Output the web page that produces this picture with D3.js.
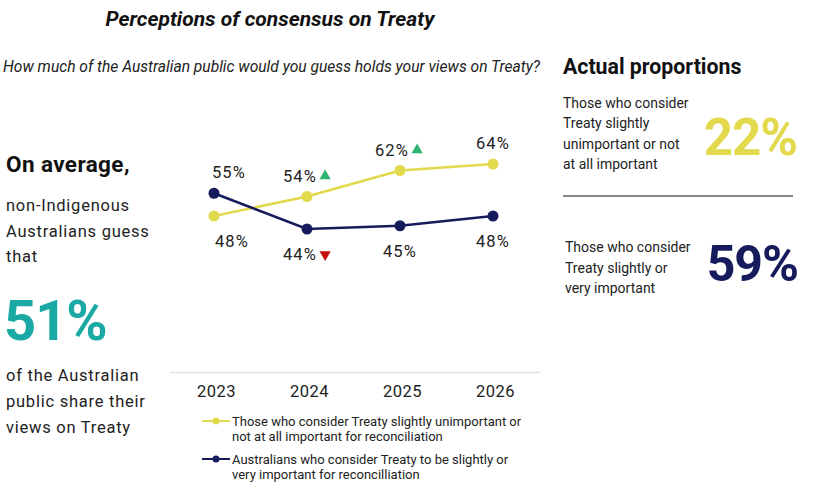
<!DOCTYPE html>
<html>
<head>
<meta charset="utf-8">
<script src="https://cdn.jsdelivr.net/npm/d3@7"></script>
<style>
  body { margin: 0; background: #fff; }
  svg { font-family: Roboto, "Noto Sans", sans-serif; }
</style>
</head>
<body>
<div id="chart"></div>
<script>
// Data
const years = ["2023", "2024", "2025", "2026"];
const unimportantGuess = [48, 54, 62, 64];   // yellow series
const importantGuess = [55, 44, 45, 48];     // navy series
const unimportantChange = [null, "up", "up", null];
const importantChange = [null, "down", null, null];
const legendLabels = [
  ["Those who consider Treaty slightly unimportant or", "not at all important for reconciliation"],
  ["Australians who consider Treaty to be slightly or", "very important for reconcilliation"]
];
const averageGuess = 51;
const actualUnimportant = 22;
const actualImportant = 59;

const width = 814, height = 492;
const yellow = "#e3d94c", navy = "#161b5b", teal = "#1ba9a5";
const green = "#2db673", red = "#c80f0f", ink = "#222";

const svg = d3.create("svg")
  .attr("width", width)
  .attr("height", height)
  .attr("viewBox", [0, 0, width, height]);

//attach now so text lengths can be measured
d3.select("#chart").node().append(svg.node());

//Title and question
svg.append("text")
  .attr("x", 270).attr("y", 26)
  .attr("text-anchor", "middle")
  .style("font-size", "21px").style("font-weight", "bold").style("font-style", "italic")
  .attr("fill", "#111")
  .text("Perceptions of consensus on Treaty");

svg.append("text")
  .attr("x", 3).attr("y", 72)
  .style("font-size", "15.6px").style("font-style", "italic")
  .attr("fill", ink)
  .text("How much of the Australian public would you guess holds your views on Treaty?");

//Left panel
const left = svg.append("g").attr("fill", ink);
left.append("text").attr("x", 6).attr("y", 172)
  .style("font-size", "22.5px").style("font-weight", "bold").attr("fill", "#111")
  .style("letter-spacing", "0.4px")
  .text("On average,");
["non-Indigenous", "Australians guess", "that"].forEach((t, i) => {
  left.append("text").attr("x", 6).attr("y", 211 + i * 25.5)
    .style("font-size", "16.5px").style("letter-spacing", "0.75px").text(t);
});
left.append("text").attr("x", 4).attr("y", 340)
  .style("font-size", "56px").style("font-weight", "bold").attr("fill", teal)
  .style("letter-spacing", "-1px")
  .text(averageGuess + "%");
["of the Australian", "public share their", "views on Treaty"].forEach((t, i) => {
  left.append("text").attr("x", 6).attr("y", 381 + i * 26)
    .style("font-size", "16.5px").style("letter-spacing", "0.75px").text(t);
});

//Scales
const x = d3.scalePoint().domain(years).range([214, 493]);
const y = d3.scaleLinear().domain([0, 100]).range([372, 47]);

//Baseline axis
svg.append("line")
  .attr("x1", 170).attr("x2", 540)
  .attr("y1", 372.5).attr("y2", 372.5)
  .attr("stroke", "#e2e2e2").attr("stroke-width", 1.5);

const xAxis = svg.append("g")
  .attr("transform", "translate(2, 385)")
  .call(d3.axisBottom(x).tickSize(0).tickPadding(0));
xAxis.select(".domain").remove();
xAxis.selectAll("text")
  .style("font-size", "16.5px").attr("fill", ink)
  .style("letter-spacing", "0.5px")
  .style("font-family", "Roboto, sans-serif");

const line = d3.line().x((d, i) => x(years[i])).y(d => y(d));

const series = [
  { values: unimportantGuess, change: unimportantChange, color: yellow,
    above: [false, true, true, true], dx: [18, -7, -8, 0] },
  { values: importantGuess, change: importantChange, color: navy,
    above: [true, false, false, false], dx: [15, -7, 0, 0] }
];

series.forEach(s => {
  svg.append("path")
    .datum(s.values)
    .attr("fill", "none")
    .attr("stroke", s.color)
    .attr("stroke-width", 2.5)
    .attr("d", line);

  svg.append("g").selectAll("circle")
    .data(s.values)
    .join("circle")
    .attr("cx", (d, i) => x(years[i]))
    .attr("cy", d => y(d))
    .attr("r", 5.5)
    .attr("fill", s.color);

  s.values.forEach((v, i) => {
    const tx = x(years[i]) + s.dx[i];
    const ty = s.above[i] ? y(v) - 15 : y(v) + 31;
    const label = svg.append("text")
      .attr("x", tx).attr("y", ty)
      .attr("text-anchor", "middle")
      .style("font-size", "16.5px").style("letter-spacing", "1.2px").attr("fill", ink)
      .text(v + "%");
    if (s.change[i]) {
      const w = label.node().getComputedTextLength();
      svg.append("path")
        .attr("d", d3.symbol(d3.symbolTriangle, 55)())
        .attr("transform", `translate(${tx + w / 2 + 8},${ty - 5.5}) rotate(${s.change[i] === "down" ? 180 : 0})`)
        .attr("fill", s.change[i] === "up" ? green : red);
    }
  });
});

//Legend
const legend = svg.append("g");
[yellow, navy].forEach((c, i) => {
  const ly = 421 + i * 38;
  legend.append("line")
    .attr("x1", 202).attr("x2", 230).attr("y1", ly).attr("y2", ly)
    .attr("stroke", c).attr("stroke-width", 2);
  legend.append("circle").attr("cx", 216).attr("cy", ly).attr("r", 3.5).attr("fill", c);
  legendLabels[i].forEach((t, j) => {
    legend.append("text")
      .attr("x", 232).attr("y", ly + 5 + j * 15)
      .style("font-size", "13px").attr("fill", ink)
      .text(t);
  });
});

//Right panel
const right = svg.append("g").attr("fill", ink);
right.append("text").attr("x", 563).attr("y", 74)
  .style("font-size", "21.3px").style("font-weight", "bold").attr("fill", "#111")
  .text("Actual proportions");
["Those who consider", "Treaty slightly", "unimportant or not", "at all important"].forEach((t, i) => {
  right.append("text").attr("x", 563).attr("y", 108 + i * 20.3)
    .style("font-size", "14px").text(t);
});
right.append("text").attr("x", 797).attr("y", 155)
  .attr("text-anchor", "end")
  .style("font-size", "51px").style("font-weight", "bold").attr("fill", yellow)
  .style("letter-spacing", "-1px")
  .text(actualUnimportant + "%");
right.append("line")
  .attr("x1", 563).attr("x2", 793).attr("y1", 196).attr("y2", 196)
  .attr("stroke", "#111").attr("stroke-width", 1.2);
["Those who consider", "Treaty slightly or", "very important"].forEach((t, i) => {
  right.append("text").attr("x", 565).attr("y", 252 + i * 20.5)
    .style("font-size", "14px").text(t);
});
right.append("text").attr("x", 798).attr("y", 281)
  .attr("text-anchor", "end")
  .style("font-size", "50px").style("font-weight", "bold").attr("fill", navy)
  .style("letter-spacing", "-1px")
  .text(actualImportant + "%");
</script>
</body>
</html>
